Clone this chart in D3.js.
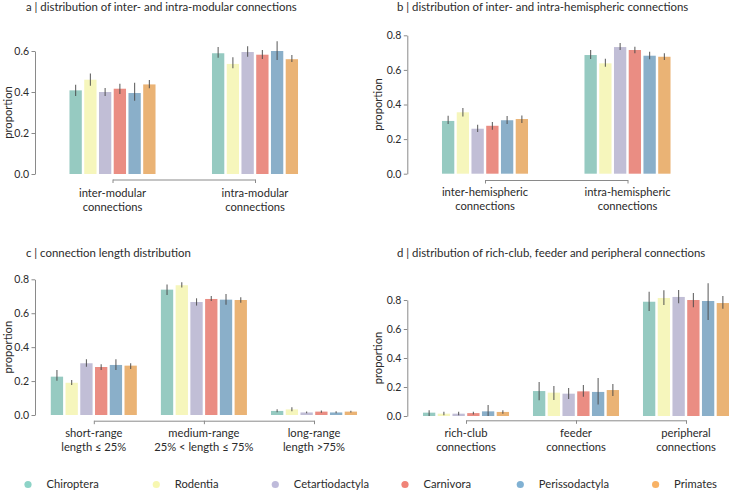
<!DOCTYPE html>
<html><head><meta charset="utf-8">
<script src="https://cdn.jsdelivr.net/npm/d3@7"></script>
<style>
body{margin:0;background:#fff;}
svg{display:block;}
text{font-family:Lato,"Open Sans",sans-serif;fill:#2b2b2b;}
</style></head>
<body><svg id="c" width="729" height="491"></svg>
<script>
// ---------- data ----------
const species = ["Chiroptera","Rodentia","Cetartiodactyla","Carnivora","Perissodactyla","Primates"];
const barColors = ["#96cac1","#f6f6bc","#c1bed6","#ea8d83","#8aafc9","#eab375"];
const legendColors = ["#8dd3c7","#f7f7b0","#bebada","#f08377","#80b1d3","#f8b265"];

const titleA = "a | distribution of inter- and intra-modular connections";
const catsA = [["inter-modular","connections"],["intra-modular","connections"]];
const meanA = [[0.408,0.460,0.400,0.416,0.395,0.437],[0.589,0.537,0.595,0.582,0.600,0.560]];
const loA   = [[0.381,0.430,0.380,0.390,0.357,0.418],[0.567,0.516,0.572,0.561,0.556,0.546]];
const hiA   = [[0.435,0.490,0.420,0.440,0.445,0.458],[0.620,0.570,0.623,0.605,0.647,0.580]];
const ticksA = [0.0,0.2,0.4,0.6];

const titleB = "b | distribution of inter- and intra-hemispheric connections";
const catsB = [["inter-hemispheric","connections"],["intra-hemispheric","connections"]];
const meanB = [[0.305,0.355,0.260,0.277,0.309,0.316],[0.686,0.638,0.732,0.715,0.682,0.676]];
const loB   = [[0.287,0.330,0.241,0.254,0.287,0.293],[0.663,0.618,0.715,0.696,0.661,0.657]];
const hiB   = [[0.335,0.380,0.283,0.299,0.333,0.337],[0.715,0.665,0.755,0.734,0.705,0.696]];
const ticksB = [0.0,0.2,0.4,0.6,0.8];

const titleC = "c | connection length distribution";
const catsC = [["short-range","length ≤ 25%"],["medium-range","25% < length ≤ 75%"],["long-range","length >75%"]];
const meanC = [[0.226,0.190,0.305,0.283,0.295,0.291],[0.739,0.765,0.666,0.684,0.680,0.678],[0.024,0.033,0.015,0.020,0.015,0.020]];
const loC   = [[0.202,0.177,0.285,0.265,0.265,0.271],[0.708,0.751,0.645,0.672,0.650,0.662],[0.016,0.022,0.011,0.014,0.010,0.015]];
const hiC   = [[0.265,0.206,0.328,0.299,0.328,0.305],[0.770,0.782,0.688,0.702,0.713,0.694],[0.034,0.045,0.020,0.026,0.022,0.025]];
const ticksC = [0.0,0.2,0.4,0.6,0.8];

const titleD = "d | distribution of rich-club, feeder and peripheral connections";
const catsD = [["rich-club","connections"],["feeder","connections"],["peripheral","connections"]];
const meanD = [[0.023,0.016,0.016,0.020,0.032,0.028],[0.172,0.161,0.154,0.170,0.166,0.179],[0.788,0.814,0.821,0.800,0.793,0.779]];
const loD   = [[0.000,0.005,0.005,0.010,0.000,0.015],[0.108,0.110,0.117,0.133,0.080,0.138],[0.724,0.766,0.777,0.750,0.662,0.740]];
const hiD   = [[0.040,0.030,0.030,0.030,0.076,0.040],[0.234,0.207,0.193,0.214,0.262,0.221],[0.857,0.867,0.869,0.848,0.915,0.828]];
const ticksD = [0.0,0.2,0.4,0.6,0.8];

// ---------- layout ----------
const panels = [
  {title:titleA, cats:catsA, mean:meanA, lo:loA, hi:hiA, ticks:ticksA,
   axisX:35, y0:174, yTop:51, c0:112.5, c1:255, titleX:26, titleY:11, ylabX:8, brY:179.5, lab1Y:197, groupW:88.4},
  {title:titleB, cats:catsB, mean:meanB, lo:loB, hi:hiB, ticks:ticksB,
   axisX:407.3, y0:173.7, yTop:35.3, c0:485, c1:627.5, titleX:397, titleY:11, ylabX:378, brY:180, lab1Y:196, groupW:88.4},
  {title:titleC, cats:catsC, mean:meanC, lo:loC, hi:hiC, ticks:ticksC,
   axisX:35, y0:415, yTop:279.3, c0:93.8, c1:314, titleX:26, titleY:257, ylabX:8, brY:420.7, lab1Y:436.5, groupW:88.4},
  {title:titleD, cats:catsD, mean:meanD, lo:loD, hi:hiD, ticks:ticksD,
   axisX:407.3, y0:416, yTop:300, c0:466, c1:686, titleX:397, titleY:257, ylabX:378, brY:420.3, lab1Y:436.5, groupW:88.4}
];
const legendX = [28, 156.3, 275.3, 405, 520.3, 655.6];

const svg = d3.select("#c");
const axisColor = "#8a8a8a";

panels.forEach(p => {
  const g = svg.append("g");
  const n = p.cats.length;
  const y = d3.scaleLinear().domain([0, p.ticks[p.ticks.length-1]]).range([p.y0, p.yTop]);
  const x = d3.scaleLinear().domain([0, n-1]).range([p.c0, p.c1]);
  const inner = d3.scaleBand().domain(species).range([-p.groupW/2, p.groupW/2]).paddingInner(0.165).paddingOuter(0.08);

  g.append("text").attr("x", p.titleX).attr("y", p.titleY).attr("font-size", 11.4).text(p.title);

  p.cats.forEach((c, gi) => {
    species.forEach((s, si) => {
      const v = p.mean[gi][si];
      g.append("rect")
        .attr("x", x(gi) + inner(s)).attr("width", inner.bandwidth())
        .attr("y", y(v)).attr("height", y(0) - y(v))
        .attr("fill", barColors[si]);
      const cx = x(gi) + inner(s) + inner.bandwidth()/2;
      g.append("line").attr("x1", cx).attr("x2", cx)
        .attr("y1", y(p.lo[gi][si])).attr("y2", y(p.hi[gi][si]))
        .attr("stroke", "#4a4a4a").attr("stroke-width", 1.1).attr("stroke-opacity", 0.85);
    });
  });

  const ya = g.append("g").attr("transform", `translate(${p.axisX},0)`)
    .call(d3.axisLeft(y).tickValues(p.ticks).tickFormat(d3.format(".1f")).tickSize(3.5).tickSizeOuter(0).tickPadding(2.5));
  ya.select(".domain").attr("stroke", axisColor).attr("stroke-width", 1);
  ya.selectAll(".tick line").attr("stroke", axisColor);
  ya.selectAll(".tick text").attr("font-size", 10.5).attr("fill", "#2b2b2b").style("font-family", "Lato, sans-serif");

  g.append("text").attr("transform", `translate(${p.ylabX},${(p.y0 + p.yTop)/2}) rotate(-90)`)
    .attr("dy", "0.35em").attr("text-anchor", "middle").attr("font-size", 11.2).text("proportion");

  const xa = g.append("g").attr("transform", `translate(0,${p.brY})`)
    .call(d3.axisBottom(x).tickValues(d3.range(n)).tickFormat("").tickSize(3.5).tickSizeOuter(0));
  xa.select(".domain").attr("stroke", axisColor).attr("stroke-width", 1);
  xa.selectAll(".tick line").attr("stroke", axisColor);

  p.cats.forEach((lines, gi) => {
    lines.forEach((t, li) => {
      g.append("text").attr("x", x(gi)).attr("y", p.lab1Y + li*14)
        .attr("text-anchor", "middle").attr("font-size", 11.2).text(t);
    });
  });
});

const leg = svg.append("g");
species.forEach((s, i) => {
  leg.append("circle").attr("cx", legendX[i]).attr("cy", 484.5).attr("r", 3.6).attr("fill", legendColors[i]);
  leg.append("text").attr("x", legendX[i] + 18.5).attr("y", 484.5).attr("dy", "0.35em")
    .attr("font-size", 11.2).text(s);
});
</script></body></html>
